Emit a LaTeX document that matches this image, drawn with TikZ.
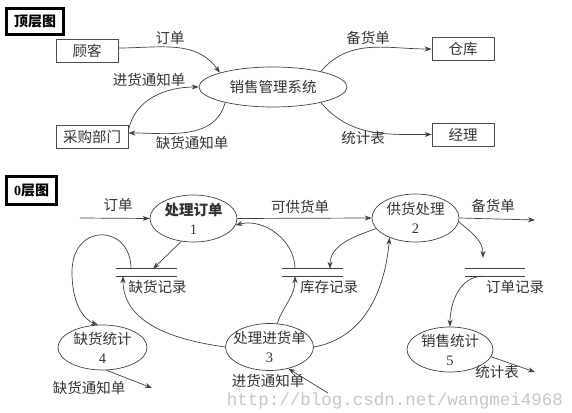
\documentclass[tikz,border=0pt]{standalone}
\usepackage{fontspec}
\setmainfont{Liberation Serif}
\newfontfamily\cjk{Noto Sans CJK SC}
\newfontfamily\wmfont{Liberation Mono}
\usetikzlibrary{shapes.geometric, arrows.meta}

\begin{document}
\begin{tikzpicture}[x=1pt, y=1pt,
  every node/.style={font=\cjk\fontsize{14.5}{19}\selectfont, text=black!80},
  entity/.style={draw=black!70, line width=0.8pt, minimum width=62pt, minimum height=23pt, inner sep=0pt},
  proc/.style={ellipse, draw=black!75, line width=0.7pt, minimum width=87pt, minimum height=47pt, inner sep=-8pt, align=center},
  store/.style={minimum width=60pt, minimum height=7pt, inner sep=0pt},
  flow/.style={draw=black!75, line width=0.7pt, -{Stealth[length=7pt,width=5pt]}},
  title/.style={draw=black, line width=3.5pt, inner sep=0pt, text=black, font=\cjk\bfseries\fontsize{14}{16}\selectfont}]
  \useasboundingbox (0,0) rectangle (572,412);

  % top level
  \node[title, minimum width=57pt, minimum height=26pt] (tdt) at (35,390.5) {顶层图};
  \node[entity] (guke) at (87,361) {顾客};
  \node[entity, minimum width=72pt] (caigou) at (92,275) {采购部门};
  \node[ellipse, draw=black!75, line width=0.7pt, minimum width=148pt, minimum height=40pt, inner sep=-8pt] (xsgl) at (273,325) {销售管理系统};
  \node[entity] (cangku) at (463,363) {仓库};
  \node[entity] (jingli) at (463,277.5) {经理};

  \draw[flow] ([yshift=3pt]guke.east) to[out=0, in=125] (xsgl.165);
  \draw[flow] ([yshift=-6pt]caigou.north east) to[out=80, in=180] (xsgl.west);
  \draw[flow] (xsgl.-162) to[out=-105, in=0] ([yshift=4pt]caigou.east);
  \draw[flow] (xsgl.18) to[out=50, in=180] (cangku.west);
  \draw[flow] (xsgl.-18) to[out=-50, in=180] (jingli.west);

  \node (l1) at (170,374) {订单};
  \node (l2) at (149,332) {进货通知单};
  \node (l3) at (192,269) {缺货通知单};
  \node (l4) at (368,374) {备货单};
  \node (l5) at (363,274) {统计表};

  % level 0
  \node[title, minimum width=50pt, minimum height=28pt] (ldt) at (31.5,221.5) {{\rmfamily 0}层图};
  \node[proc, font=\cjk\bfseries\fontsize{14.5}{19}\selectfont] (p1) at (193.5,193.5) {处理订单\\{\rmfamily\mdseries 1}};
  \node[proc, minimum height=48pt] (p2) at (415.5,194) {供货处理\\{\rmfamily 2}};
  \node[proc, minimum width=88pt] (p3) at (269.5,65) {处理进货单\\{\rmfamily 3}};
  \node[proc, minimum width=89pt, minimum height=45pt] (p4) at (102.5,64.5) {缺货统计\\{\rmfamily 4}};
  \node[proc, minimum width=86pt, minimum height=45pt] (p5) at (450,62.5) {销售统计\\{\rmfamily 5}};

  \node[store] (s1) at (146.5,139.5) {};
  \node[store] (s2) at (312.5,139.5) {};
  \node[store] (s3) at (495,139.5) {};
  \draw[line width=0.8pt, black!75] (s1.north west) -- (s1.north east) (s1.south west) -- (s1.south east);
  \draw[line width=0.8pt, black!75] (s2.north west) -- (s2.north east) (s2.south west) -- (s2.south east);
  \draw[line width=0.8pt, black!75] (s3.north west) -- (s3.north east) (s3.south west) -- (s3.south east);
  \node (s1t) at (157.5,125) {缺货记录};
  \node (s2t) at (329,125) {库存记录};
  \node (s3t) at (515,125) {订单记录};

  \coordinate (dd) at (80,194);
  \coordinate (bh) at (535,192);
  \coordinate (lp) at (72,140);
  \coordinate (qt) at (152,24);
  \coordinate (jt) at (328,19);
  \coordinate (tj) at (535,40);

  \draw[flow] (dd) -- (p1.west);
  \draw[flow] (p1.east) -- (p2.west);
  \draw[flow] (p2.east) -- (bh);
  \draw[flow] (p1.-118) -- ([xshift=6.5pt]s1.north);
  \draw[flow] ([xshift=-15.5pt]s1.north) .. controls +(0,45) and +(0,50) .. (lp)
    .. controls +(0,-35) and +(-12,4) .. ([xshift=-4.5pt]p4.north);
  \draw[flow] (p3.west) to[out=172, in=-90] ([xshift=-23.5pt]s1.south);
  \draw[flow] ([xshift=-17.5pt]s2.north) to[out=90, in=15] (p1.-9);
  \draw[flow] (p3.72) to[out=70, in=-90] ([xshift=-17.5pt]s2.south);
  \draw[flow] (p3.east) to[out=10, in=-95] (p2.-143);
  \draw[flow] (p2.195) to[out=200, in=90] ([xshift=17.5pt]s2.north);
  \draw[flow] (p2.-5) to[out=-40, in=90] ([xshift=-12pt, yshift=11pt]s3.north);
  \draw[flow] ([xshift=-12pt]s3.south) to[out=180, in=90] (p5.north);
  \draw[flow] (p4.-80) -- (qt);
  \draw[flow] (jt) -- (p3.-49);
  \draw[flow] (p5.-10) -- (tj);

  \node (d1) at (118,207) {订单};
  \node (d2) at (300,205) {可供货单};
  \node (d3) at (493,206) {备货单};
  \node (d4) at (89,24) {缺货通知单};
  \node[inner sep=0pt] (d5) at (268,31) {进货通知单};
  \node (d6) at (497,40) {统计表};

  \node[inner sep=0pt, font=\wmfont\fontsize{17.5}{20}\selectfont, text=black!22] (wm) at (395,11) {http://blog.csdn.net/wangmei4968};
\end{tikzpicture}
\end{document}
